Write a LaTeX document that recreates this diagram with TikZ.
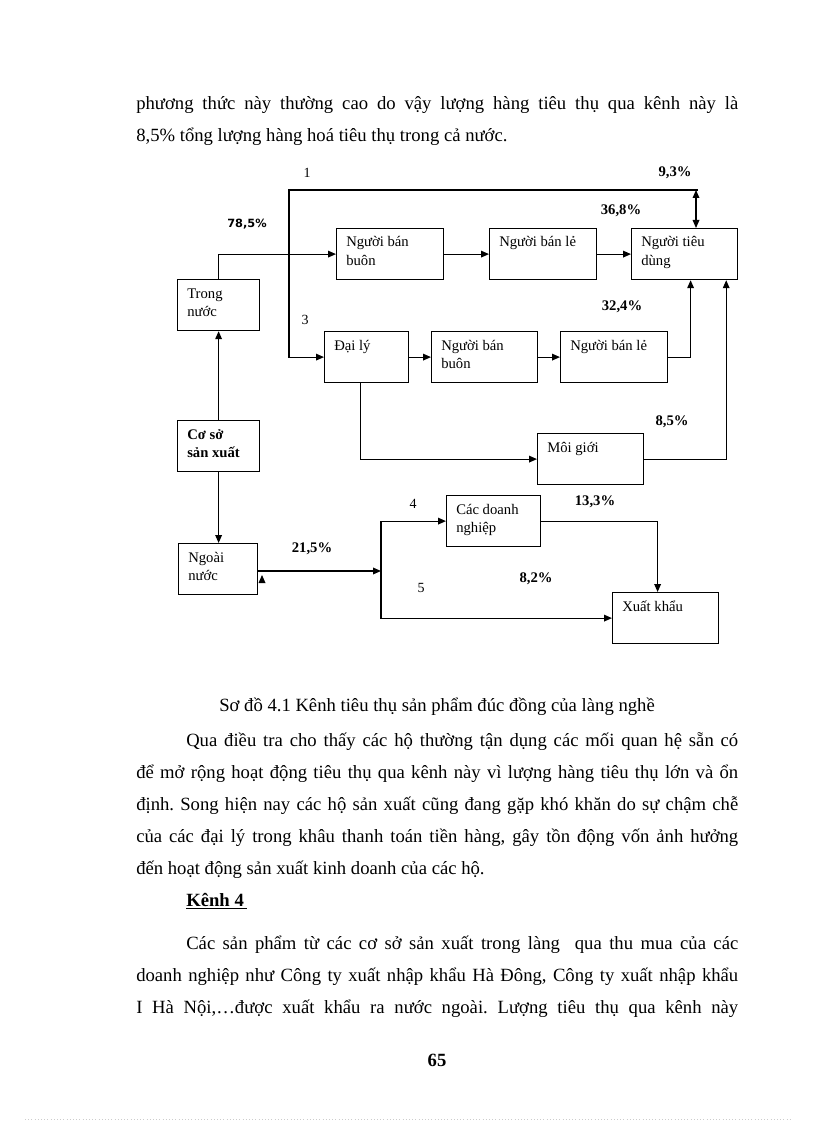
\documentclass[tikz,border=0pt]{standalone}
\usepackage{fontspec}
\setmainfont{Liberation Serif}
\newfontfamily\pctsans{DejaVu Sans}
\usetikzlibrary{arrows.meta}
\frenchspacing

\begin{document}
\begin{tikzpicture}[
  x=.75pt, y=-.75pt,
  every node/.style={font=\fontsize{11}{13.5}\selectfont},
  box/.style={draw, line width=.9pt, anchor=north west, inner sep=0pt,
              minimum width=#1*.75pt, minimum height=38.25pt},
  box/.default=107,
  txt/.style={anchor=base west, align=left, inner sep=0pt,
              xshift=7.5pt, yshift=-14.25pt},
  txt2/.style={txt, yshift=-13.5pt},
  pct/.style={font=\fontsize{11}{13}\selectfont\bfseries},
  num/.style={font=\fontsize{10.5}{12}\selectfont},
  body/.style={anchor=base west, inner sep=0pt, text width=451.5pt,
               align=justify, font=\fontsize{14}{24}\selectfont},
  arr/.style={-{Triangle[length=6pt, width=5pt]}, line width=.9pt},
  ln/.style={line width=.9pt}
]
\useasboundingbox (0,0) rectangle (816,1123);

% text above the chart
\node[body] (p0) at (136,110) {phương thức này thường cao do vậy lượng hàng tiêu thụ qua kênh này là\linebreak
  8,5\% tổng lượng hàng hoá tiêu thụ trong cả nước.};

% production base and markets
\node[box=82] (tn) at (177,279) {};
\node[txt2] (t-tn) at (tn.north west) {Trong\\nước};
\node[box=82] (cs) at (177,420) {};
\node[txt2, font=\fontsize{11}{13.5}\selectfont\bfseries] (t-cs) at (cs.north west) {Cơ sở\\sản xuất};
\node[box=79] (nn) at (178,543) {};
\node[txt2] (t-nn) at (nn.north west) {Ngoài\\nước};

% domestic channels
\node[box] (ban1) at (336,228) {};
\node[txt2] (t-ban1) at (ban1.north west) {Người bán\\buôn};
\node[box] (le1) at (489,228) {};
\node[txt] (t-le1) at (le1.north west) {Người bán lẻ};
\node[box=106] (td) at (631,228) {};
\node[txt2] (t-td) at (td.north west) {Người tiêu\\dùng};
\node[box=84] (dl) at (324,331) {};
\node[txt] (t-dl) at (dl.north west) {Đại lý};
\node[box=106] (ban2) at (431,331) {};
\node[txt2] (t-ban2) at (ban2.north west) {Người bán\\buôn};
\node[box] (le2) at (560,331) {};
\node[txt] (t-le2) at (le2.north west) {Người bán lẻ};
\node[box=106] (mg) at (537,433) {};
\node[txt] (t-mg) at (mg.north west) {Môi giới};

% export channels
\node[box=94] (cdn) at (446,495) {};
\node[txt2] (t-cdn) at (cdn.north west) {Các doanh\\nghiệp};
\node[box=106] (xk) at (612,592) {};
\node[txt] (t-xk) at (xk.north west) {Xuất khẩu};

% connectors
\coordinate (j1) at (289,254);
\coordinate (top) at (696,190);
\coordinate (j2) at (381,571);
\draw[arr] (cs) -- (tn);
\draw[arr] (cs.south) -- (cs.south |- nn.north);
\draw[arr] (tn.north) |- (ban1.west);
\draw[ln] (j1) |- ([xshift=1.5pt]top);
\draw[{Triangle[length=6pt, width=5pt]}-{Triangle[length=6pt, width=5pt]}, line width=.9pt]
  (top) -- (top |- td.north);
\draw[arr] (j1) |- (dl.west);
\foreach \i/\j in {ban1/le1, le1/td, dl/ban2, ban2/le2}
  \draw[arr] (\i) -- (\j);
\draw[arr] (le2.east) -| ([xshift=4.5pt]td.south);
\draw[arr] ([xshift=-4.5pt]dl.south) |- (mg.west);
\draw[arr] (mg.east) -| ([xshift=-9pt]td.south east);
\draw[arr] (nn.east |- j2) -- (j2);
\draw[arr] (j2) |- (cdn.west);
\draw[arr] (j2) |- (xk.west);
\draw[arr] (cdn.east) -| ([xshift=-6pt]xk.north);
\fill (258.5,583) -- (265.5,583) -- (262,575) -- cycle;

% shares and channel numbers
\node[num] (n1) at (307,173) {1};
\node[num] (n3) at (305,320) {3};
\node[num] (n4) at (413,504) {4};
\node[num] (n5) at (421,588) {5};
\node[font=\pctsans\fontsize{8.5}{10}\selectfont\bfseries] (p785) at (247,224) {78,5\%};
\node[pct] (p93) at (675,173) {9,3\%};
\node[pct] (p368) at (621,211) {36,8\%};
\node[pct] (p324) at (622,307) {32,4\%};
\node[pct] (p85) at (672,422) {8,5\%};
\node[pct] (p133) at (595,502) {13,3\%};
\node[pct] (p215) at (312,549) {21,5\%};
\node[pct] (p82) at (536,579) {8,2\%};

% caption and text below
\node[anchor=base, inner sep=0pt, font=\fontsize{14}{24}\selectfont] (cap) at (437,711)
  {Sơ đồ 4.1 Kênh tiêu thụ sản phẩm đúc đồng của làng nghề};
\node[body] (p1) at (136,746) {\hspace*{37.5pt}Qua điều tra cho thấy các hộ thường tận dụng các mối quan hệ sẵn có\linebreak
  để mở rộng hoạt động tiêu thụ qua kênh này vì lượng hàng tiêu thụ lớn và ổn\linebreak
  định. Song hiện nay các hộ sản xuất cũng đang gặp khó khăn do sự chậm chễ\linebreak
  của các đại lý trong khâu thanh toán tiền hàng, gây tồn động vốn ảnh hưởng\linebreak
  đến hoạt động sản xuất kinh doanh của các hộ.};
\node[anchor=base west, inner sep=0pt, font=\fontsize{14}{24}\selectfont\bfseries] (k4) at (186,906)
  {\underline{Kênh 4\,}};
\node[body] (p2) at (136,949) {\hspace*{37.5pt}Các sản phẩm từ các cơ sở sản xuất trong làng\ \ qua thu mua của các\linebreak
  doanh nghiệp như Công ty xuất nhập khẩu Hà Đông, Công ty xuất nhập khẩu\linebreak
  I Hà Nội,…được xuất khẩu ra nước ngoài. Lượng tiêu thụ qua kênh này\parfillskip=0pt\par};
\node[anchor=base, inner sep=0pt, font=\fontsize{14}{16}\selectfont\bfseries] (pg) at (437,1066) {65};
\draw[gray!40, dotted] (25,1119) -- (790,1119);
\end{tikzpicture}
\end{document}
